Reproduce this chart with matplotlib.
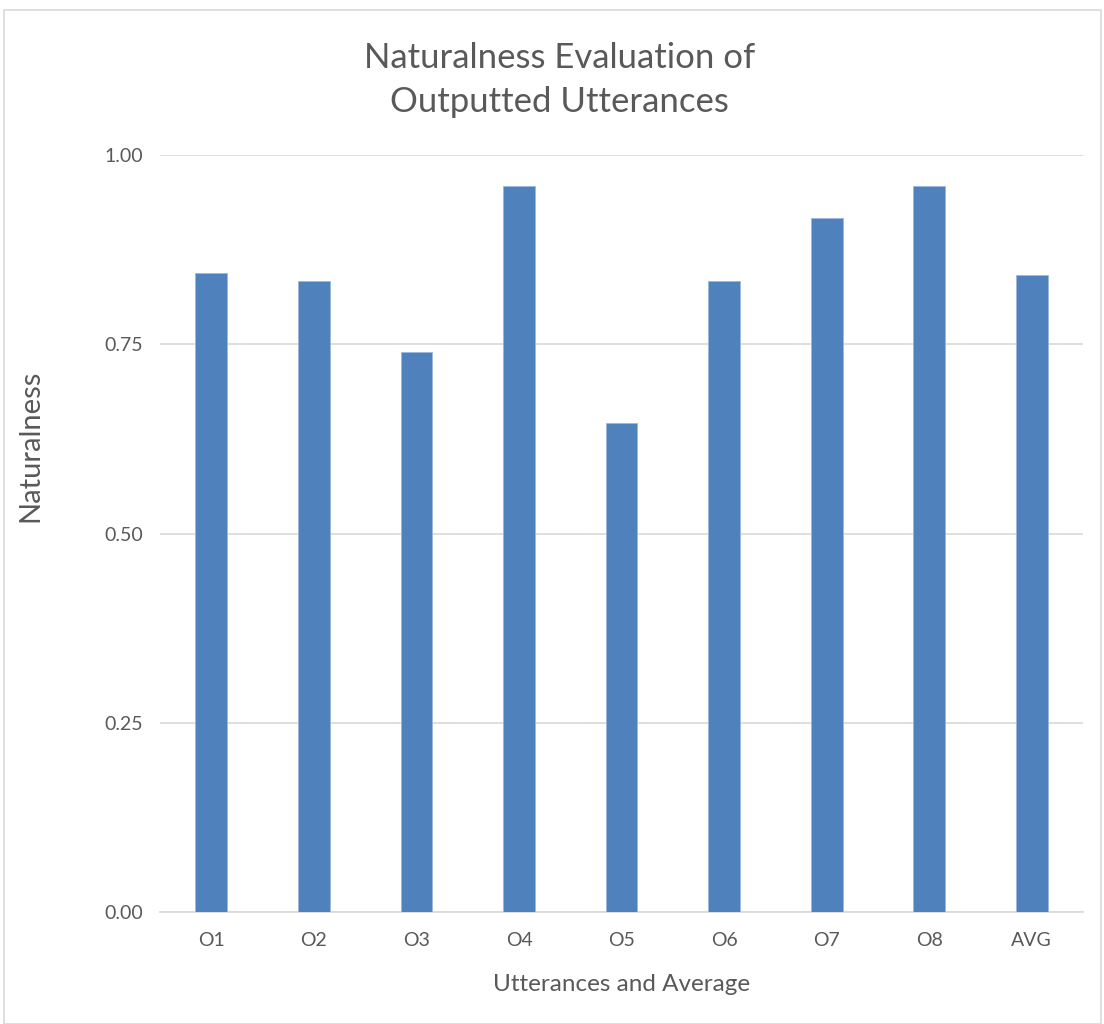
import matplotlib
matplotlib.use("Agg")
import matplotlib.pyplot as plt
from matplotlib.patches import Rectangle

categories = ["O1", "O2", "O3", "O4", "O5", "O6", "O7", "O8", "AVG"]
naturalness = [0.844, 0.833, 0.740, 0.958, 0.646, 0.833, 0.917, 0.958, 0.841]
yticks = [0.00, 0.25, 0.50, 0.75, 1.00]

plt.rcParams["font.family"] = ["Lato", "DejaVu Sans"]
text_color = "#595959"

fig = plt.figure(figsize=(11.04, 10.24), dpi=100)
ax = fig.add_axes([0.145, 0.109, 0.836, 0.740])

ax.bar(range(len(categories)), naturalness, width=0.31, color="#4f81bd",
       edgecolor="#9bb7dd", linewidth=0.6, zorder=3)

ax.set_xlim(-0.5, len(categories) - 0.5)
ax.set_ylim(0, 1.0)
ax.set_yticks(yticks)
ax.set_yticklabels(["{:.2f}".format(v) for v in yticks])
ax.set_xticks(range(len(categories)))
ax.set_xticklabels(categories)
ax.tick_params(axis="both", length=0, labelsize=14, colors=text_color)
ax.tick_params(axis="x", pad=14)
ax.tick_params(axis="y", pad=12)

ax.grid(axis="y", color="#d9d9d9", linewidth=1.2, zorder=0)
for side in ["top", "right", "left"]:
    ax.spines[side].set_visible(False)
ax.spines["bottom"].set_color("#d9d9d9")
ax.spines["bottom"].set_linewidth(1.2)

ax.set_xlabel("Utterances and Average", fontsize=17.5, color=text_color)
ax.xaxis.set_label_coords(0.5, -0.081)
ax.set_ylabel("Naturalness", fontsize=21, color=text_color)
ax.yaxis.set_label_coords(-0.126, 0.616)
fig.text(0.507, 0.922, "Naturalness Evaluation of\nOutputted Utterances", ha="center", va="center",
         fontsize=25, color=text_color, linespacing=1.49)

# chart frame
fig.patches.append(Rectangle((0.004, 0.0), 0.993, 0.99, transform=fig.transFigure,
                             fill=False, edgecolor="#d9d9d9", linewidth=1.2))

fig.savefig("out.png", dpi=100)
